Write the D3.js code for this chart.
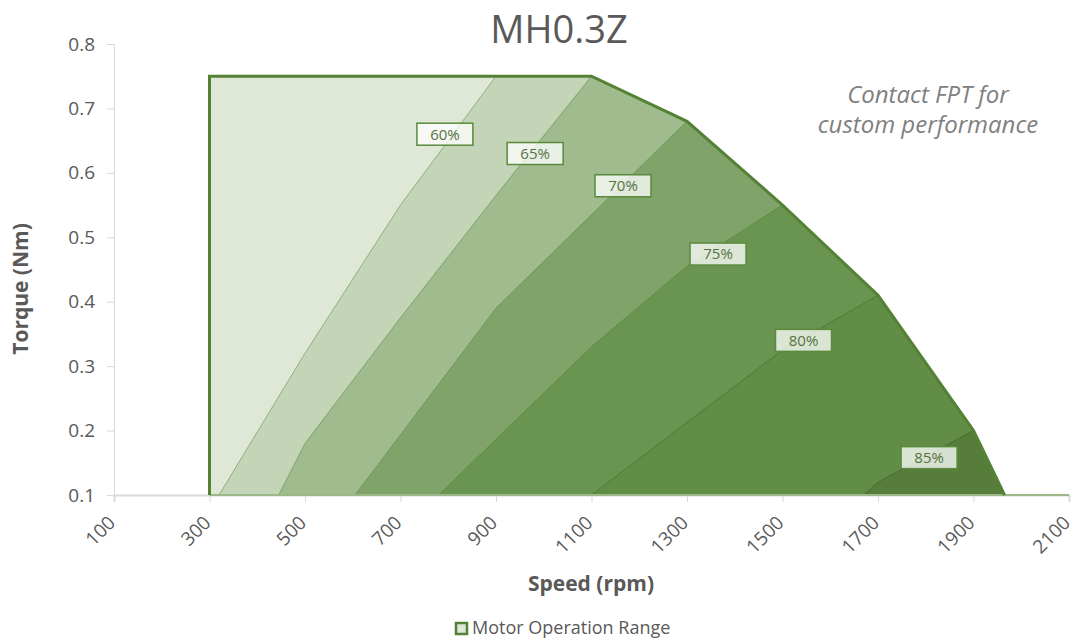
<!DOCTYPE html>
<html>
<head>
<meta charset="utf-8">
<script src="https://cdn.jsdelivr.net/npm/d3@7"></script>
<style>
  body { margin: 0; background: #fff; }
  svg { font-family: "Open Sans", "DejaVu Sans", sans-serif; }
</style>
</head>
<body>
<svg id="chart" width="1076" height="639"></svg>
<script>
// Motor operation envelope (speed rpm, torque Nm)
const envSpeed  = [300, 300, 1100, 1300, 1500, 1700, 1900, 1965];
const envTorque = [0.1, 0.75, 0.75, 0.68, 0.55, 0.41, 0.2, 0.1];

// Efficiency contour boundaries, bottom to top
const levels = ["60%", "65%", "70%", "75%", "80%", "85%"];
const contourSpeed = [
    [320, 500, 700, 900],
    [445, 500, 700, 900, 1100],
    [605, 900, 1100, 1300],
    [780, 1100, 1300, 1500],
    [1100, 1500, 1700],
    [1670, 1700, 1900]
];
const contourTorque = [
    [0.1, 0.32, 0.55, 0.75],
    [0.1, 0.18, 0.375, 0.565, 0.75],
    [0.1, 0.39, 0.535, 0.68],
    [0.1, 0.33, 0.455, 0.55],
    [0.1, 0.325, 0.41],
    [0.1, 0.12, 0.2]
];

// Label positions for each contour
const labelSpeed  = [793, 982, 1166, 1365, 1544, 1807];
const labelTorque = [0.66, 0.63, 0.58, 0.474, 0.34, 0.158];

const xTicks = [100, 300, 500, 700, 900, 1100, 1300, 1500, 1700, 1900, 2100];
const yTicks = [0.1, 0.2, 0.3, 0.4, 0.5, 0.6, 0.7, 0.8];

const bandColors = ["#dfe7d7", "#c4d5b7", "#a0bb8d", "#80a36a", "#6a9550", "#628d46", "#567d3a"];
const lineColors = ["#8fb07a", "#7ea468", "#6f9858", "#5f8b47", "#4f7a38", "#476f33"];

const margin = { top: 44, right: 7, bottom: 144, left: 114 };
const width = 1076;
const height = 639;

const svg = d3.select("#chart");

const x = d3.scaleLinear().domain([100, 2100]).range([margin.left, width - margin.right]);
const y = d3.scaleLinear().domain([0.1, 0.8]).range([height - margin.bottom, margin.top]);

const envelope = envSpeed.map((s, i) => [s, envTorque[i]]);
const line = d3.line().x(d => x(d[0])).y(d => y(d[1]));

// Axes
const yAxis = svg.append("g")
    .attr("transform", `translate(${margin.left},0)`)
    .call(d3.axisLeft(y).tickValues(yTicks).tickSize(7).tickPadding(12).tickFormat(d3.format(".1f")));
yAxis.select(".domain").attr("stroke", "#d9d9d9");
yAxis.selectAll(".tick line").attr("stroke", "#d9d9d9");
yAxis.selectAll(".tick text")
    .attr("fill", "#595959")
    .attr("font-size", "19px")
    .attr("font-family", "Open Sans");

const xAxis = svg.append("g")
    .attr("transform", `translate(0,${y(0.1)})`)
    .call(d3.axisBottom(x).tickValues(xTicks).tickSize(7).tickFormat(d3.format("d")));
xAxis.select(".domain").attr("stroke", "#d9d9d9").attr("stroke-width", 2);
xAxis.selectAll(".tick line").attr("stroke", "#d9d9d9");
xAxis.selectAll(".tick text")
    .attr("fill", "#595959")
    .attr("font-size", "19px")
    .attr("font-family", "Open Sans")
    .attr("text-anchor", "end")
    .attr("y", 0)
    .attr("dy", 0)
    .attr("transform", "translate(2,29) rotate(-45)");

// Base fill of the whole operating range
svg.append("path")
    .datum(envelope)
    .attr("d", d => line(d) + "Z")
    .attr("fill", bandColors[0]);

// Each band: everything to the right of a contour, inside the envelope
contourSpeed.forEach((speeds, k) => {
    const pts = speeds.map((s, i) => [s, contourTorque[k][i]]);
    const endSpeed = speeds[speeds.length - 1];
    const rest = envelope.slice(2).filter(p => p[0] > endSpeed);
    const poly = pts.concat(rest);
    svg.append("path")
        .datum(poly)
        .attr("d", d => line(d) + "Z")
        .attr("fill", bandColors[k + 1]);
});

// Contour lines
contourSpeed.forEach((speeds, k) => {
    const pts = speeds.map((s, i) => [s, contourTorque[k][i]]);
    svg.append("path")
        .datum(pts)
        .attr("d", line)
        .attr("fill", "none")
        .attr("stroke", lineColors[k])
        .attr("stroke-width", 1);
});

// Bottom edge along 0.1 to the end of the axis
svg.append("path")
    .datum([[300, 0.1], [2100, 0.1]])
    .attr("d", line)
    .attr("stroke", "#9cb889")
    .attr("stroke-width", 2);

// Envelope outline
svg.append("path")
    .datum(envelope)
    .attr("d", line)
    .attr("fill", "none")
    .attr("stroke", "#548235")
    .attr("stroke-width", 3)
    .attr("stroke-linejoin", "miter");

// Contour labels
const labels = svg.append("g").selectAll("g")
    .data(levels)
    .join("g")
    .attr("transform", (d, i) => `translate(${x(labelSpeed[i])},${y(labelTorque[i])})`);

labels.append("rect")
    .attr("x", -28)
    .attr("y", -11)
    .attr("width", 56)
    .attr("height", 22)
    .attr("fill", "rgba(255,255,255,0.76)")
    .attr("stroke", "#5a8a3c")
    .attr("stroke-width", 1.5);

labels.append("text")
    .attr("text-anchor", "middle")
    .attr("dy", "0.36em")
    .attr("font-size", "15px")
    .attr("fill", "#56733f")
    .text(d => d);

// Title
svg.append("text")
    .attr("x", 559)
    .attr("y", 43)
    .attr("text-anchor", "middle")
    .attr("font-size", "38px")
    .attr("fill", "#595959")
    .text("MH0.3Z");

// Axis titles
svg.append("text")
    .attr("x", 591)
    .attr("y", 591)
    .attr("text-anchor", "middle")
    .attr("font-size", "21px")
    .attr("font-weight", "bold")
    .attr("fill", "#595959")
    .text("Speed (rpm)");

svg.append("text")
    .attr("transform", "translate(28,289) rotate(-90)")
    .attr("text-anchor", "middle")
    .attr("font-size", "21px")
    .attr("font-weight", "bold")
    .attr("fill", "#595959")
    .text("Torque (Nm)");

// Note
const note = svg.append("text")
    .attr("text-anchor", "middle")
    .attr("font-size", "24px")
    .attr("font-style", "italic")
    .attr("fill", "#808080");
note.append("tspan").attr("x", 928).attr("y", 103).text("Contact FPT for");
note.append("tspan").attr("x", 928).attr("y", 133).text("custom performance");

// Legend
svg.append("rect")
    .attr("x", 456)
    .attr("y", 623)
    .attr("width", 11)
    .attr("height", 11)
    .attr("fill", bandColors[0])
    .attr("stroke", "#548235")
    .attr("stroke-width", 2.5);

svg.append("text")
    .attr("x", 472)
    .attr("y", 634)
    .attr("font-size", "18px")
    .attr("fill", "#595959")
    .text("Motor Operation Range");
</script>
</body>
</html>
